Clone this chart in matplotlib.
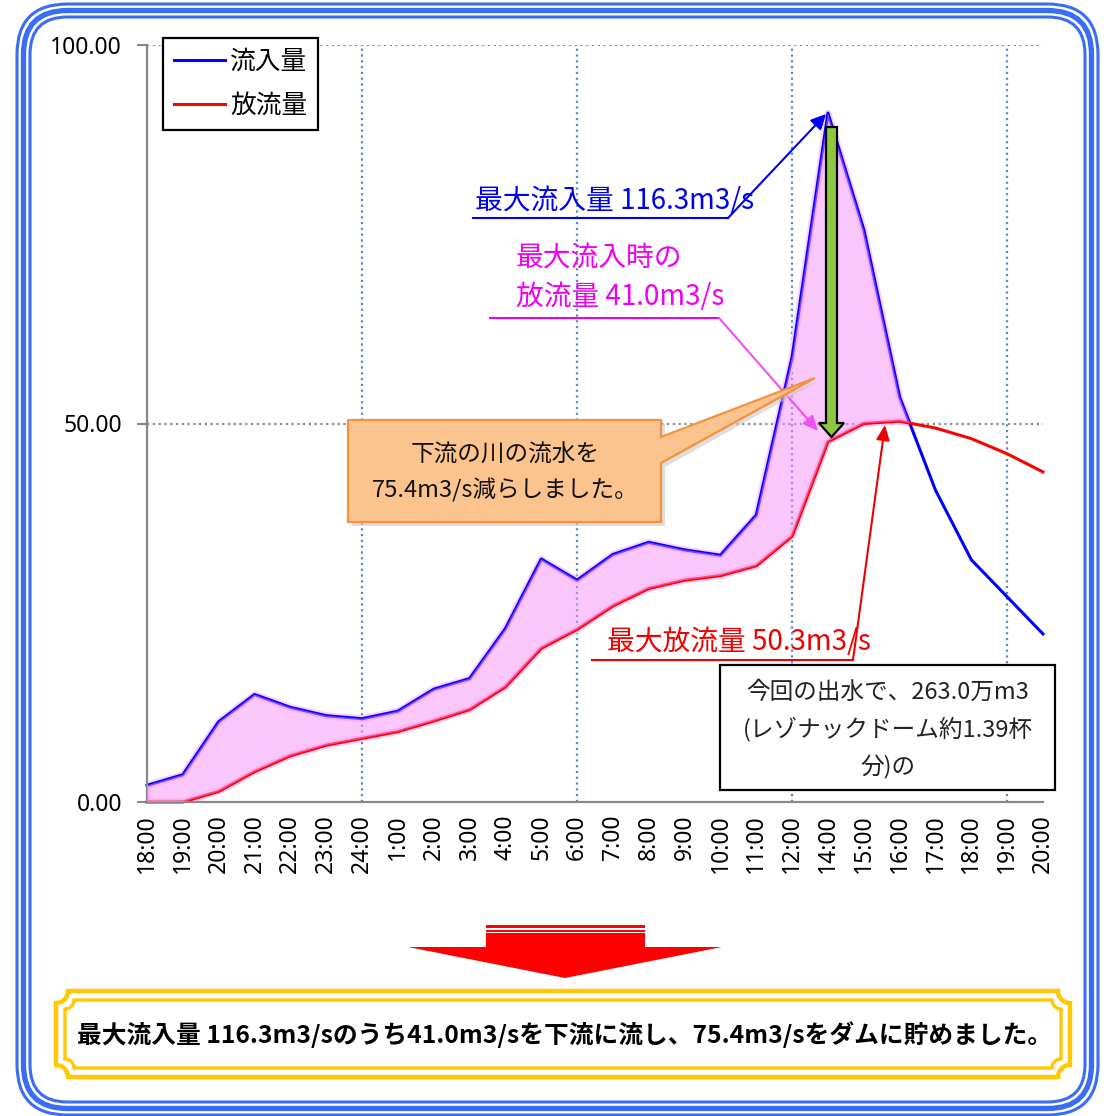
import numpy as np
import matplotlib
matplotlib.use('Agg')
import matplotlib.pyplot as plt
from matplotlib.patches import Polygon, Rectangle, FancyBboxPatch

plt.rcParams['font.family'] = ['Noto Sans CJK JP', 'DejaVu Sans']

# ---- data -------------------------------------------------------------
times = ['18:00', '19:00', '20:00', '21:00', '22:00', '23:00', '24:00',
         '1:00', '2:00', '3:00', '4:00', '5:00', '6:00', '7:00', '8:00',
         '9:00', '10:00', '11:00', '12:00', '14:00', '15:00', '16:00',
         '17:00', '18:00', '19:00', '20:00']
inflow = [2.2, 3.6, 10.6, 14.2, 12.5, 11.4, 11.0, 12.0, 14.9, 16.3, 22.9,
          32.1, 29.3, 32.7, 34.3, 33.3, 32.6, 37.9, 58.8, 91.0, 75.6, 53.5,
          41.2, 32.0, 27.1, 22.2]
outflow = [0.0, 0.0, 1.4, 4.0, 6.1, 7.5, 8.4, 9.3, 10.7, 12.2, 15.2, 20.3,
           22.8, 25.9, 28.2, 29.3, 29.9, 31.2, 35.1, 47.6, 50.0, 50.3, 49.4,
           48.0, 46.0, 43.6]
series_names = ['流入量', '放流量']
y_ticks = [0, 50, 100]
y_tick_labels = ['0.00', '50.00', '100.00']

label_max_in = '最大流入量 116.3m3/s'
label_out_at_max = ['最大流入時の', '放流量 41.0m3/s']
label_max_out = '最大放流量 50.3m3/s'
callout_lines = ['下流の川の流水を', '75.4m3/s減らしました。']
box_lines = ['今回の出水で、263.0万m3', '(レゾナックドーム約1.39杯', '分)の']
summary = '最大流入量 116.3m3/sのうち41.0m3/sを下流に流し、75.4m3/sをダムに貯めました。'

# ---- figure -----------------------------------------------------------
W, H = 1108, 1116
fig = plt.figure(figsize=(W / 100, H / 100), dpi=100)
fig.patch.set_facecolor('white')

ax = fig.add_axes([147 / W, 1 - 802 / H, (1043 - 147) / W, (802 - 45) / H])
x = np.arange(len(times))
inf = np.array(inflow)
out = np.array(outflow)

ax.set_xlim(0, len(times) - 1)
ax.set_ylim(0, 100)

# grid
for gx in [6, 12, 18, 24]:
    ax.axvline(gx, color='#5A8AC6', lw=1.6, ls=(0, (1, 1.6)), zorder=0.5)
for gy in [50, 100]:
    ax.axhline(gy, color='#8C8C8C', lw=1.6, ls=(0, (1, 1.6)), zorder=0.5)

# soft glow around the storage area
ax.fill_between(x, inf, out, where=inf >= out, interpolate=True,
                facecolor='none', edgecolor='#FCCFFC', lw=5, zorder=1.2)

l_in, = ax.plot(x, inf, color='#0000FF', lw=2.2, zorder=2, clip_on=False)
l_out, = ax.plot(x, out, color='#FF0000', lw=2.2, zorder=2, clip_on=False)

# storage area between inflow and release (translucent pink over the lines)
ax.fill_between(x, inf, out, where=inf >= out, interpolate=True,
                facecolor=(245 / 255, 145 / 255, 245 / 255, 0.5),
                edgecolor='none', zorder=3)

for s in ['top', 'right']:
    ax.spines[s].set_visible(False)
for s in ['left', 'bottom']:
    ax.spines[s].set_color('#888888')
    ax.spines[s].set_linewidth(1.6)

tick_font = dict(family='Noto Sans', size=16.5)
ax.set_yticks(y_ticks)
ax.set_yticklabels(y_tick_labels, fontdict=tick_font)
ax.tick_params(axis='y', length=7, width=1.5, color='#888888', pad=11)
ax.set_xticks(x)
ax.set_xticklabels(times, rotation=90, fontdict=tick_font)
ax.tick_params(axis='x', which='major', length=0, pad=9)
ax.set_xticks([0, 6, 12, 18, 24], minor=True)
ax.tick_params(axis='x', which='minor', length=6, width=1.5, color='#888888')

leg = ax.legend([l_in, l_out], series_names, loc='upper left',
                bbox_to_anchor=(163 / W, 1 - 38 / H),
                bbox_transform=fig.transFigure, frameon=True, fancybox=False,
                edgecolor='black', framealpha=1, fontsize=18.5,
                handlelength=2.0, borderpad=0.42, labelspacing=0.7,
                handletextpad=0.2, borderaxespad=0)
leg.get_frame().set_linewidth(1.6)
leg.set_zorder(10)

# ---- overlay in pixel coordinates ------------------------------------
ov = fig.add_axes([0, 0, 1, 1])
ov.set_xlim(0, W)
ov.set_ylim(H, 0)
ov.axis('off')
ov.patch.set_alpha(0)

# outer triple blue frame
frame_c = '#3A6CF4'
for inset, lw in [(-6.5, 2.2), (0, 3.8), (6.5, 2.2)]:
    x0, y0, x1, y1 = 23.5 + inset, 10.5 + inset, 1091.5 - inset, 1108.5 - inset
    r = 44 - inset
    ov.add_patch(FancyBboxPatch((x0 + r, y0 + r), (x1 - x0) - 2 * r,
                                (y1 - y0) - 2 * r,
                                boxstyle=f'round,pad={r},rounding_size={r}',
                                fc='none', ec=frame_c, lw=lw))

# blue annotation: maximum inflow
ov.text(475, 201, label_max_in, color='#0000F0', fontsize=20,
        ha='left', va='center')
ov.plot([473, 728], [218, 218], color='#0000F0', lw=1.5)
ov.annotate('', xy=(826, 114), xytext=(728, 218),
            arrowprops=dict(arrowstyle='-|>,head_length=0.9,head_width=0.45',
                            color='#0000F0', lw=1.5, shrinkA=0, shrinkB=0))

# magenta annotation: release at maximum inflow
ov.text(516, 258, label_out_at_max[0], color='#F000F0', fontsize=20,
        ha='left', va='center')
ov.text(516, 297, label_out_at_max[1], color='#F000F0', fontsize=20,
        ha='left', va='center')
ov.plot([490, 719], [318, 318], color='#F000F0', lw=1.5)
ov.annotate('', xy=(818, 431), xytext=(719, 318),
            arrowprops=dict(arrowstyle='-|>,head_length=0.9,head_width=0.4',
                            color='#F050F0', lw=1.5, shrinkA=0, shrinkB=0))

# green arrow: reduction
ov.add_patch(Polygon([(826, 127), (837, 127), (837, 423), (844, 423),
                      (831.5, 437), (819, 423), (826, 423)], closed=True,
                     fc='#8DC63F', ec='black', lw=1.6, zorder=5))

# orange callout
ov.add_patch(Polygon([(352, 424), (665, 424), (665, 440), (819, 381),
                      (665, 467), (665, 526), (352, 526)], closed=True,
                     fc='#C8C8C8', ec='none', alpha=0.6, zorder=5))
ov.add_patch(Polygon([(348, 420), (661, 420), (661, 437), (815, 378),
                      (661, 463), (661, 522), (348, 522)], closed=True,
                     fc='#FBC38E', ec='#F39240', lw=1.6, zorder=6))
ov.text(505, 455, callout_lines[0], fontsize=17, ha='center', va='center',
        color='#111111', zorder=7)
ov.text(505, 490, callout_lines[1], fontsize=17, ha='center', va='center',
        color='#111111', zorder=7)

# red annotation: maximum release
ov.text(607, 642, label_max_out, color='#F00000', fontsize=20,
        ha='left', va='center')
ov.plot([592, 853], [660, 660], color='#F00000', lw=1.5)
ov.annotate('', xy=(885, 425), xytext=(853, 660),
            arrowprops=dict(arrowstyle='-|>,head_length=0.9,head_width=0.4',
                            color='#F00000', lw=1.5, shrinkA=0, shrinkB=0))

# volume text box
ov.add_patch(Rectangle((720, 665), 335, 125, fc='white', ec='black', lw=1.6,
                       zorder=5))
for yy, line in zip([692, 729, 767], box_lines):
    ov.text(888, yy, line, fontsize=17, ha='center', va='center',
            color='#222222', zorder=6)

# big red arrow
ov.add_patch(Polygon([(486, 933), (645, 933), (645, 947), (722, 947),
                      (565, 978), (408, 947), (486, 947)], closed=True,
                     fc='#FF0000', ec='none'))
ov.add_patch(Rectangle((486, 925), 159, 2.5, fc='#FF0000', ec='none'))
ov.add_patch(Rectangle((486, 929.5), 159, 2.5, fc='#FF0000', ec='none'))


def notched_frame(x0, y0, x1, y1, r, n=12):
    """Rectangle outline whose corners are cut by concave quarter arcs."""
    t = np.linspace(0, np.pi / 2, n)
    pts = []
    pts += list(zip(x0 + r * np.sin(t), y0 + r * np.cos(t)))
    pts += list(zip(x1 - r * np.cos(t), y0 + r * np.sin(t)))
    pts += list(zip(x1 - r * np.sin(t), y1 - r * np.cos(t)))
    pts += list(zip(x0 + r * np.cos(t), y1 - r * np.sin(t)))
    return pts


gold = '#FFC800'
ov.add_patch(Polygon(notched_frame(56, 991, 1070, 1077, 12), closed=True,
                     fc='white', ec=gold, lw=3.2))
ov.add_patch(Polygon(notched_frame(65, 1000, 1061, 1068, 9), closed=True,
                     fc='none', ec=gold, lw=2.4))
ov.text(565, 1035, summary, fontsize=17.8, fontweight='bold', ha='center',
        va='center', color='black')

fig.savefig('out.png', dpi=100)
